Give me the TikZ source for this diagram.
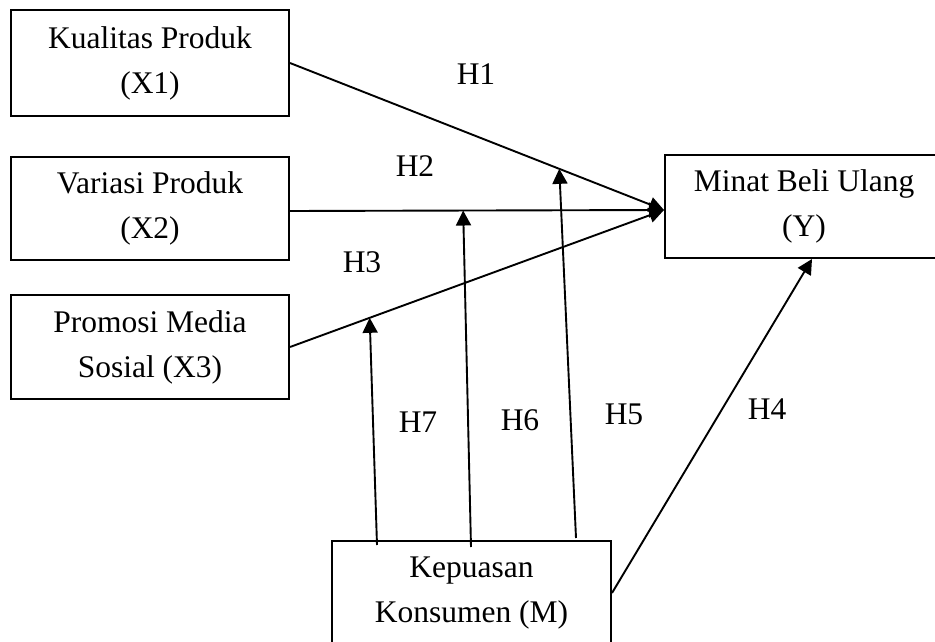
\documentclass[tikz,border=0pt]{standalone}
\usepackage{fontspec}
\setmainfont{Liberation Serif}
\usetikzlibrary{arrows.meta,calc}
\begin{document}
\begin{tikzpicture}[x=1pt,y=-1pt,
  box/.style={draw,line width=2pt,inner sep=0pt,align=center,
    font=\fontsize{31.5}{45}\selectfont},
  lbl/.style={inner sep=0pt,font=\fontsize{31.5}{45}\selectfont},
  arr/.style={line width=1.9pt,-{Triangle[length=15pt,width=15pt]}},
  ln/.style={line width=1.9pt}]
\clip (0,0) rectangle (935,642);
\fill[white] (0,0) rectangle (935,642);
% boxes
\node[box,minimum width=278pt,minimum height=106pt] (X1) at (150,63) {Kualitas Produk\\(X1)};
\node[box,minimum width=278pt,minimum height=103pt] (X2) at (150,208.5) {Variasi Produk\\(X2)};
\node[box,minimum width=278pt,minimum height=104pt] (X3) at (150,347) {Promosi Media\\Sosial (X3)};
\node[box,minimum width=278pt,minimum height=103pt] (Y) at (804,206.5) {Minat Beli Ulang\\(Y)};
\node[box,minimum width=279pt,minimum height=104pt] (M) at (471.5,593) {Kepuasan\\Konsumen (M)};
% target point on Y
\coordinate (Yt) at ([yshift=-3.5pt]Y.west);
% direct paths
\draw[arr] (X1.east) -- (Yt);
\draw[arr] ([yshift=-2.5pt]X2.east) -- (Yt);
\draw[arr] (X3.east) -- (Yt);
% moderation tips on the lines
\coordinate (t7) at ($(X3.east)!0.213!(Yt)$);
\coordinate (t6) at ($([yshift=-2.5pt]X2.east)!0.463!(Yt)$);
\coordinate (t5) at ($(X1.east)!0.72!(Yt)$);
\coordinate (s7) at ($(M.north west)+(46,5)$);
\coordinate (s6) at ($(M.north west)+(140,7)$);
\coordinate (s5) at ($(M.north west)+(245,-2)$);
\draw[arr] (s7) -- (t7);
\draw[arr] (s6) -- (t6);
\draw[arr] (s5) -- (t5);
\draw[arr] (M.east) -- ([xshift=8pt]Y.south);
% labels
\node[lbl] (H1) at (476,74) {H1};
\node[lbl] (H2) at (415,166) {H2};
\node[lbl] (H3) at (362,262) {H3};
\node[lbl] (H7) at (418,422) {H7};
\node[lbl] (H6) at (520,420) {H6};
\node[lbl] (H5) at (624,414) {H5};
\node[lbl] (H4) at (767,409) {H4};
\end{tikzpicture}
\end{document}
